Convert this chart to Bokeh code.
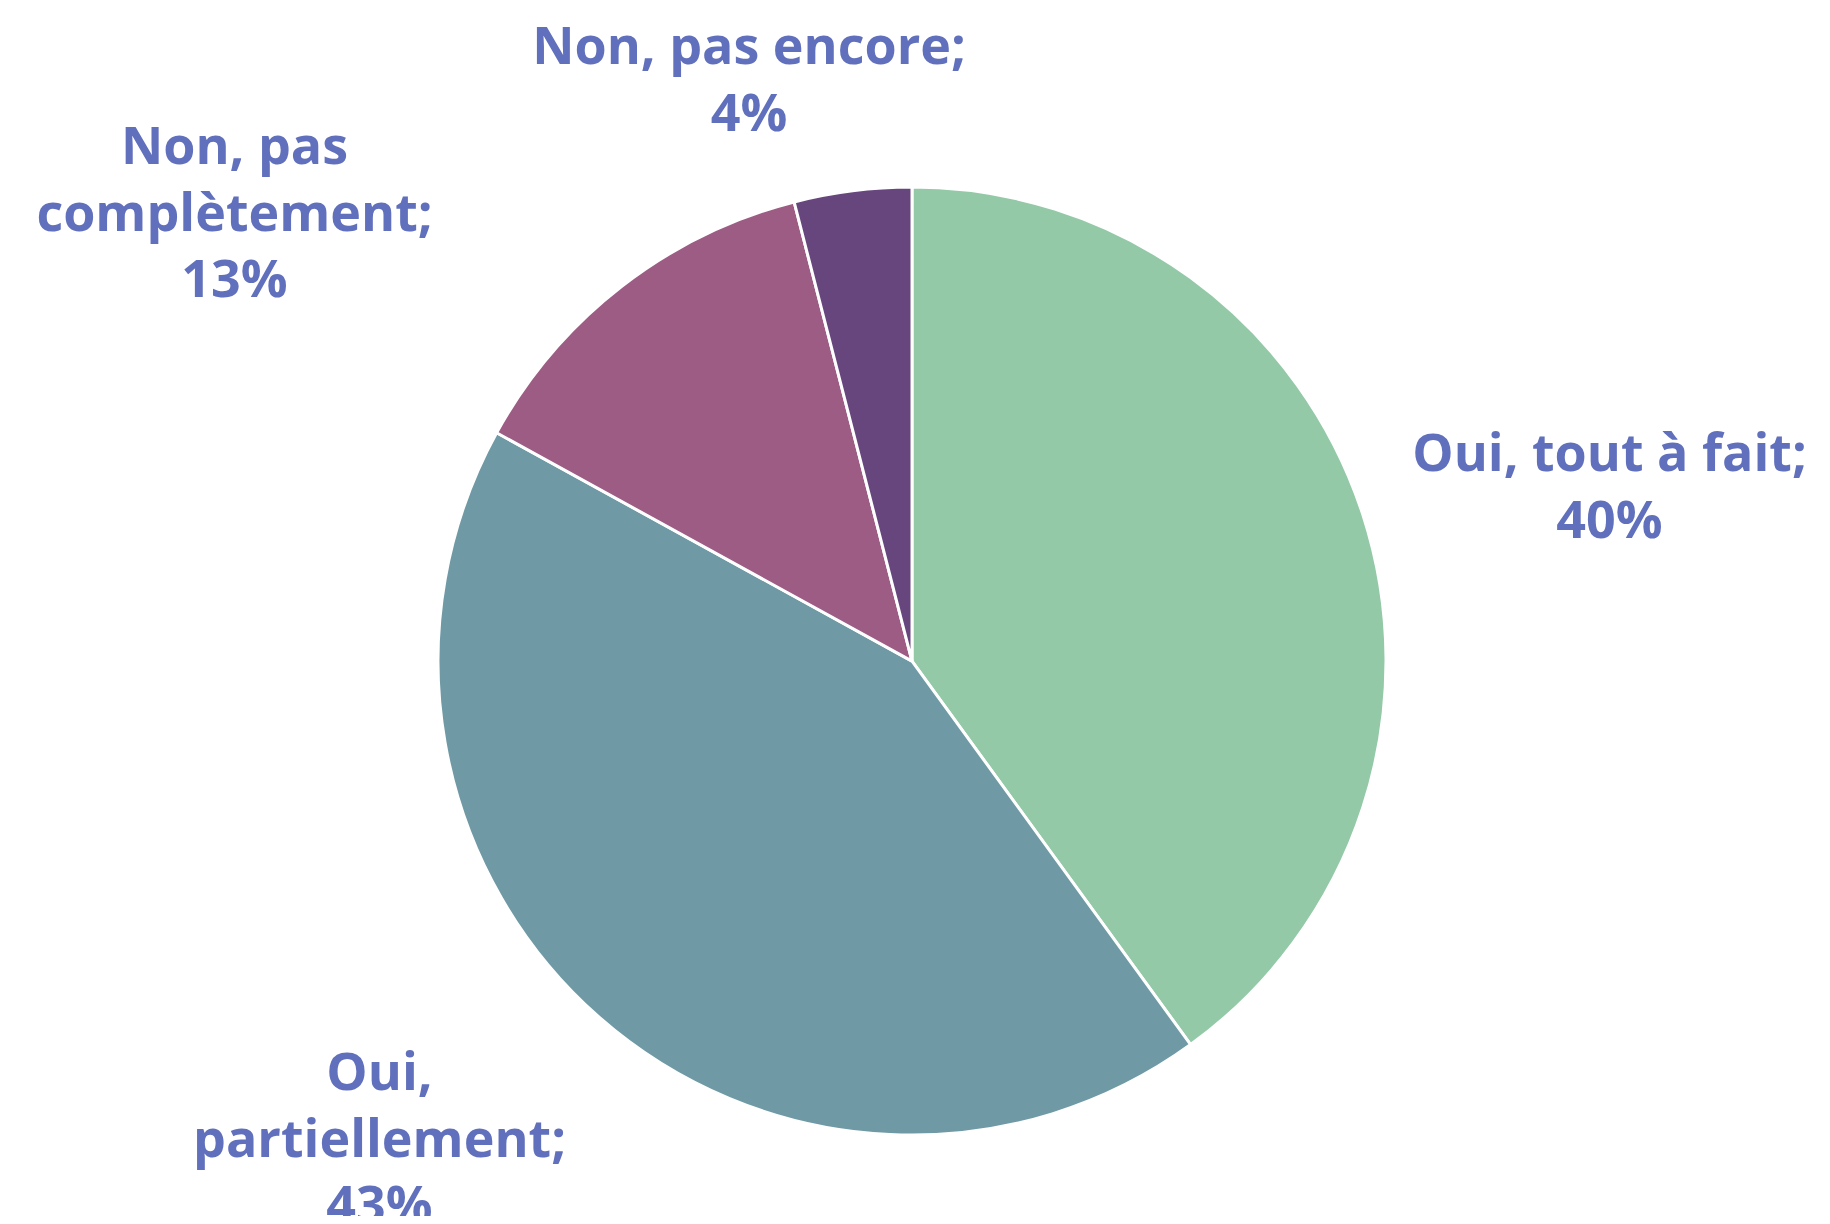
import numpy as np
from bokeh.plotting import figure
from bokeh.models import Range1d, ColumnDataSource
from bokeh.core.properties import value
from bokeh.embed import file_html
from bokeh.resources import INLINE

# ---- data ----
categories = ["Oui, tout à fait", "Oui, partiellement", "Non, pas complètement", "Non, pas encore"]
label_lines = [["Oui, tout à fait;"], ["Oui,", "partiellement;"], ["Non, pas", "complètement;"], ["Non, pas encore;"]]
values = [40, 43, 13, 4]
colors = ["#94C9A8", "#6F9AA5", "#9D5C84", "#67467E"]

# ---- layout ----
W, H = 1814, 1216
def sy(y):  # screen y -> data y
    return 1224 - y

cx, cy, r = 911.5, 660.6, 474
label_anchor = [(1609, 450), (379, 1069), (234, 143), (748.5, 43)]
line_h = 66.5
text_color = "#6170BC"

p = figure(width=W, height=H, output_backend="svg", toolbar_location=None,
           x_range=Range1d(0, W), y_range=Range1d(1224 - H, 1224),
           x_axis_type=None, y_axis_type=None, min_border=0)
p.grid.visible = False
p.outline_line_color = None
p.background_fill_color = "white"

vals = np.array(values, dtype=float)
frac = vals / vals.sum()
cum = np.concatenate([[0], np.cumsum(frac)])
start = np.pi / 2 - cum[:-1] * 2 * np.pi
end = np.pi / 2 - cum[1:] * 2 * np.pi

src = ColumnDataSource(dict(start=start, end=end, color=colors, cat=categories))
p.wedge(x=cx, y=sy(cy), radius=r, radius_units="screen", start_angle="start", end_angle="end",
        direction="clock", fill_color="color", line_color="white", line_width=3, source=src)

xs, ys, txt = [], [], []
for i, lines in enumerate(label_lines):
    ax, ay = label_anchor[i]
    allines = lines + [f"{values[i]}%"]
    for k, ln in enumerate(allines):
        xs.append(ax)
        ys.append(sy(ay + k * line_h))
        txt.append(ln)

p.text(x=xs, y=ys, text=txt, text_align="center", text_baseline="alphabetic",
       text_font=value("Open Sans"), text_font_style="bold", text_font_size="52px",
       text_color=text_color)

open("out.html", "w").write(file_html(p, INLINE))
